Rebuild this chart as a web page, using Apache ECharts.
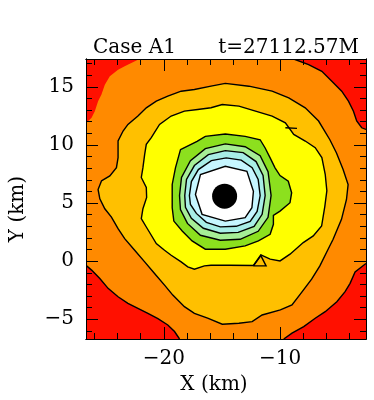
<!DOCTYPE html>
<html>
<head>
<meta charset="utf-8">
<script src="https://cdn.jsdelivr.net/npm/echarts@6/dist/echarts.min.js"></script>
<style>
html, body { margin: 0; padding: 0; background: #fff; }
#chart { width: 374px; height: 400px; }
</style>
</head>
<body>
<div id="chart"></div>
<script>
'use strict';

// axis window (km)
var xRange = [-26.7, -2.6];
var yRange = [-6.7, 17.4];

var xLabelValues = [-20, -10];
var yLabelValues = [-5, 0, 5, 10, 15];
var xMinorTicks = [-26, -24, -22, -18, -16, -14, -12, -8, -6, -4];
var yMinorTicks = [-6, -4, -3, -2, -1, 1, 2, 3, 4, 6, 7, 8, 9, 11, 12, 13, 14, 16, 17];

// red / orange boundary, one piece per corner
var redTopRight = [[-8.82, 17.4], [-7.54, 16.91], [-6.40, 16.34], [-5.54, 15.49], [-4.69, 14.63], [-4.11, 13.77],
    [-3.68, 12.91], [-3.40, 12.06], [-2.97, 11.48], [-2.6, 11.34]];
var redBottomRight = [[-2.6, -0.2], [-3.54, -0.92], [-3.97, -1.91], [-4.40, -2.63], [-5.11, -3.49], [-6.11, -4.35],
    [-6.97, -4.91], [-7.96, -5.63], [-8.97, -6.2], [-9.68, -6.7]];
var redBottomLeft = [[-18.65, -6.7], [-19.08, -6.06], [-19.66, -5.49], [-20.51, -4.95], [-21.37, -4.49], [-22.23, -4.06],
    [-23.09, -3.63], [-23.94, -3.06], [-24.8, -2.34], [-25.51, -1.49], [-26.22, -0.77], [-26.7, -0.35]];
var redTopLeft = [[-26.7, 11.9], [-26.51, 12.06], [-26.22, 12.34], [-25.94, 12.91], [-25.66, 13.77], [-25.37, 14.34],
    [-25.08, 15.19], [-24.65, 15.91], [-23.94, 16.48], [-23.37, 16.77], [-22.1, 17.4]];

// orange / gold
var orangeGold = [[-25.37, 6.91], [-24.65, 7.34], [-24.08, 8.05], [-23.94, 8.91], [-23.94, 10.34], [-23.51, 11.2],
    [-23.09, 11.77], [-22.23, 12.49], [-21.51, 13.2], [-20.65, 13.77], [-19.66, 14.2], [-18.51, 14.63],
    [-17.37, 14.77], [-15.94, 15.06], [-14.71, 15.3], [-12.68, 15.06], [-10.68, 14.63], [-9.25, 14.05],
    [-7.83, 13.2], [-6.68, 12.06], [-5.71, 10.45], [-5.14, 9.31], [-4.57, 7.88], [-4.14, 6.6], [-4.28, 5.31],
    [-4.71, 3.6], [-5.43, 1.88], [-6.0, 0.74], [-6.57, -0.41], [-7.28, -1.55], [-8.14, -2.69], [-8.97, -3.77],
    [-9.97, -4.2], [-11.54, -4.63], [-12.4, -5.2], [-13.54, -5.34], [-14.97, -5.43], [-16.23, -4.91],
    [-17.37, -4.49], [-18.23, -3.92], [-19.23, -2.92], [-19.94, -2.06], [-20.8, -1.06], [-21.65, -0.06],
    [-22.51, 0.94], [-23.37, 1.94], [-23.94, 2.8], [-24.51, 3.79], [-25.08, 4.51], [-25.51, 5.37], [-25.66, 6.17]];

// gold / yellow
var goldYellow = [[-21.94, 7.2], [-21.8, 8.05], [-21.65, 9.19], [-21.51, 10.05], [-21.08, 10.63], [-20.37, 11.77],
    [-19.37, 12.49], [-18.23, 12.91], [-17.09, 13.05], [-15.94, 13.2], [-14.97, 13.48], [-13.54, 13.34],
    [-12.11, 12.91], [-10.68, 12.49], [-9.54, 11.91], [-8.82, 10.91], [-7.83, 10.34], [-6.97, 9.77],
    [-6.4, 8.91], [-6.11, 7.48], [-5.97, 6.06], [-6.14, 4.74], [-6.42, 3.02], [-7.14, 2.17], [-8.0, 1.6],
    [-9.14, 0.6], [-10.0, 0.02], [-10.85, 0.17], [-11.65, 0.54], [-12.29, -0.37], [-14.37, -0.35],
    [-15.94, -0.35], [-16.51, -0.41], [-17.37, -0.69], [-17.94, -0.49], [-18.51, -0.06], [-19.37, 0.51],
    [-19.94, 0.94], [-20.65, 1.51], [-21.08, 2.23], [-21.51, 2.94], [-21.94, 3.66], [-21.8, 4.51],
    [-21.48, 5.48], [-21.51, 6.34]];
var goldIsland = [[-12.29, -0.41], [-11.65, 0.47], [-11.2, -0.41], [-12.29, -0.41]];
var stray = [[-9.54, 11.48], [-8.54, 11.43]];

// yellow / green and the inner rings
var yellowGreen = [[-18.57, 9.6], [-17.14, 10.31], [-16.43, 10.74], [-14.71, 10.94], [-13.0, 10.74], [-11.71, 10.45],
    [-11.28, 9.74], [-10.85, 8.89], [-10.43, 8.03], [-10.0, 7.37], [-9.29, 6.88], [-9.0, 5.89], [-9.14, 5.03],
    [-10.0, 4.31], [-10.57, 3.94], [-10.57, 3.17], [-10.85, 2.31], [-11.86, 1.74], [-13.0, 1.31], [-14.71, 1.03],
    [-16.43, 1.03], [-17.57, 1.74], [-18.42, 2.59], [-19.14, 3.45], [-19.28, 4.6], [-19.28, 6.6], [-19.0, 8.03]];
var ring1 = [[-18.65, 5.65], [-18.48, 7.2], [-17.71, 8.65], [-16.43, 9.68], [-14.71, 10.09], [-13.0, 9.85],
    [-11.71, 9.08], [-11.03, 7.71], [-10.77, 5.65], [-11.03, 3.77], [-11.88, 2.57], [-13.43, 1.88],
    [-15.14, 1.8], [-16.85, 2.23], [-17.97, 3.25], [-18.57, 4.45]];
var ring2 = [[-18.2, 5.65], [-18.05, 7.03], [-17.37, 8.23], [-16.17, 9.17], [-14.71, 9.51], [-13.17, 9.34],
    [-12.06, 8.57], [-11.46, 7.37], [-11.28, 5.65], [-11.54, 4.03], [-12.23, 3.0], [-13.6, 2.48],
    [-15.14, 2.4], [-16.6, 2.83], [-17.63, 3.68], [-18.14, 4.63]];
var ring3 = [[-17.8, 5.65], [-17.63, 6.85], [-17.03, 7.88], [-15.91, 8.65], [-14.63, 8.89], [-13.34, 8.7],
    [-12.4, 8.05], [-11.88, 7.03], [-11.71, 5.65], [-11.97, 4.28], [-12.57, 3.43], [-13.77, 3.0],
    [-15.14, 2.95], [-16.34, 3.34], [-17.2, 4.11], [-17.71, 4.88]];
var ring4 = [[-17.28, 5.74], [-16.85, 7.45], [-14.71, 8.17], [-12.85, 7.74], [-12.29, 6.02], [-12.42, 4.6],
    [-13.0, 3.74], [-14.71, 3.45], [-16.71, 4.03]];

var horizon = [[-14.77, 5.59]];

var orangeRegion = [].concat(redTopRight, redBottomRight, redBottomLeft, redTopLeft);

var FONT = 'DejaVu Serif';

function fmt(v) {
    return v < 0 ? '\u2212' + (-v) : String(v);
}

function areaSeries(points, color, outlined) {
    return {
        type: 'custom',
        data: points,
        clip: true,
        silent: true,
        renderItem: function (params, api) {
            if (params.dataIndex !== 0) {
                return null;
            }
            return {
                type: 'polygon',
                shape: { points: points.map(function (p) { return api.coord(p); }) },
                style: { fill: color, stroke: outlined ? '#000' : null, lineWidth: 1.4 }
            };
        }
    };
}

function lineSeries(points) {
    return {
        type: 'custom',
        data: points,
        clip: true,
        silent: true,
        renderItem: function (params, api) {
            if (params.dataIndex !== 0) {
                return null;
            }
            return {
                type: 'polyline',
                shape: { points: points.map(function (p) { return api.coord(p); }) },
                style: { fill: null, stroke: '#000', lineWidth: 1.4 }
            };
        }
    };
}

function xAxisDef(position, ticks, len, labels) {
    return {
        type: 'value', min: xRange[0], max: xRange[1], position: position, z: 10,
        splitLine: { show: false },
        axisLine: { show: true, onZero: false, lineStyle: { color: '#000', width: 1 } },
        axisTick: { inside: true, length: len, customValues: ticks, lineStyle: { color: '#000', width: 1 } },
        axisLabel: labels ? {
            customValues: labels, formatter: fmt, margin: 10,
            fontFamily: FONT, fontSize: 20, color: '#000'
        } : { show: false }
    };
}

function yAxisDef(position, ticks, len, labels) {
    return {
        type: 'value', min: yRange[0], max: yRange[1], position: position, z: 10,
        splitLine: { show: false },
        axisLine: { show: true, onZero: false, lineStyle: { color: '#000', width: 1 } },
        axisTick: { inside: true, length: len, customValues: ticks, lineStyle: { color: '#000', width: 1 } },
        axisLabel: labels ? {
            customValues: labels, formatter: fmt, margin: 12,
            fontFamily: FONT, fontSize: 20, color: '#000'
        } : { show: false }
    };
}

var chart = echarts.init(document.getElementById('chart'));

var xMain = xAxisDef('bottom', xLabelValues, 12, xLabelValues);
xMain.name = 'X (km)';
xMain.nameLocation = 'middle';
xMain.nameGap = 36;
xMain.nameTextStyle = { fontFamily: FONT, fontSize: 20, color: '#000', padding: [0, 24, 0, 0] };

var yMain = yAxisDef('left', yLabelValues, 12, yLabelValues);
yMain.name = 'Y (km)';
yMain.nameLocation = 'middle';
yMain.nameGap = 58;
yMain.nameTextStyle = { fontFamily: FONT, fontSize: 20, color: '#000', padding: [0, 20, 0, 0] };

var option = {
    animation: false,
    backgroundColor: '#fff',
    title: [
        { text: 'Case A1', left: 88, top: 33, textStyle: { fontFamily: FONT, fontSize: 20, fontWeight: 'normal', color: '#000' } },
        { text: 't=27112.57M', right: 10, top: 33, textStyle: { fontFamily: FONT, fontSize: 20, fontWeight: 'normal', color: '#000' } }
    ],
    grid: { left: 85, right: 8, top: 59, bottom: 60, show: true, backgroundColor: '#ff1000', borderWidth: 0 },
    xAxis: [
        xMain,
        xAxisDef('bottom', xMinorTicks, 6),
        xAxisDef('top', xLabelValues, 12),
        xAxisDef('top', xMinorTicks, 6)
    ],
    yAxis: [
        yMain,
        yAxisDef('left', yMinorTicks, 6),
        yAxisDef('right', yLabelValues, 12),
        yAxisDef('right', yMinorTicks, 6)
    ],
    series: [
        areaSeries(orangeRegion, '#ff8a00', false),
        lineSeries(redTopRight),
        lineSeries(redBottomRight),
        lineSeries(redBottomLeft),
        areaSeries(orangeGold, '#ffc000', true),
        areaSeries(goldYellow, '#ffff00', true),
        lineSeries(goldIsland),
        lineSeries(stray),
        areaSeries(yellowGreen, '#8ce01e', true),
        areaSeries(ring1, '#a6ee96', true),
        areaSeries(ring2, '#a8eee6', true),
        areaSeries(ring3, '#c6f6ff', true),
        areaSeries(ring4, '#ffffff', true),
        {
            type: 'scatter',
            data: horizon,
            symbol: 'circle',
            symbolSize: 25,
            silent: true,
            z: 5,
            itemStyle: { color: '#000', opacity: 1 }
        }
    ]
};

chart.setOption(option);
</script>
</body>
</html>
